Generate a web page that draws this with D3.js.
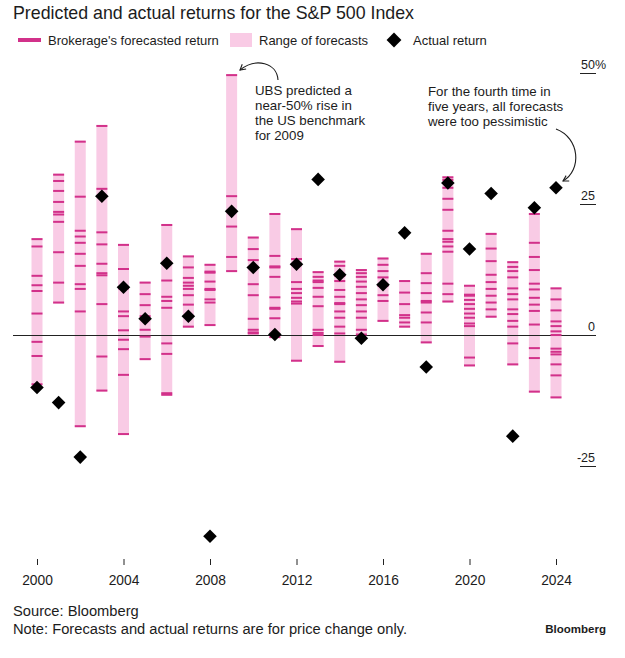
<!DOCTYPE html>
<html>
<head>
<meta charset="utf-8">
<script src="https://cdn.jsdelivr.net/npm/d3@7"></script>
<style>
  html, body { margin: 0; padding: 0; background: #fff; }
  svg { display: block; font-family: "Liberation Sans", Arial, sans-serif; }
</style>
</head>
<body>
<svg id="chart" width="625" height="658"></svg>
<script>
// ---------------- DATA ----------------
const years = [2000, 2001, 2002, 2003, 2004, 2005, 2006, 2007, 2008, 2009, 2010, 2011, 2012,
               2013, 2014, 2015, 2016, 2017, 2018, 2019, 2020, 2021, 2022, 2023, 2024];

const actualReturns = [-10.1, -13.0, -23.4, 26.4, 9.0, 3.0, 13.6, 3.5, -38.5, 23.5, 12.8, 0.0, 13.4,
                       29.6, 11.4, -0.7, 9.5, 19.4, -6.2, 28.9, 16.3, 26.9, -19.4, 24.2, 28.0];

const forecasts = [
  [18.2, 16.8, 11.2, 9.4, 8.3, 4.0, -1.4, -4.1, -9.5],                          // 2000
  [30.5, 29.3, 27.4, 25.3, 23.4, 22.9, 21.5, 15.7, 9.9, 6.1],                    // 2001
  [36.8, 26.3, 19.8, 18.7, 17.5, 15.4, 13.1, 9.6, 8.7, 4.4, -17.5],              // 2002
  [39.8, 27.8, 19.5, 17.2, 13.5, 11.7, 11.3, 5.8, -4.2, -10.7],                  // 2003
  [17.1, 12.5, 8.8, 4.4, 3.5, 0.8, -1.0, -2.8, -7.7, -19.0],                     // 2004
  [9.9, 7.7, 5.6, 3.5, 0.9, -0.4, -4.7],                                         // 2005
  [20.9, 10.3, 7.2, 6.4, 5.1, -1.7, -3.7, -11.2, -11.5],                         // 2006
  [14.9, 12.8, 10.8, 9.9, 9.3, 8.7, 7.5, 5.7, 1.5],                              // 2007
  [13.3, 12.0, 11.8, 10.1, 8.7, 8.5, 6.7, 6.1, 1.8],                             // 2008
  [49.5, 26.4, 20.6, 14.8, 12.1],                                                // 2009
  [18.5, 16.3, 14.2, 9.6, 7.5, 3.0, 0.9, 0.4, 0.2],                              // 2010
  [23.0, 15.0, 13.0, 12.8, 11.0, 7.1, 5.1, 4.9, 3.1, -0.5],                      // 2011
  [20.1, 14.4, 13.3, 10.0, 8.7, 7.9, 7.0, 6.3, 5.9, -5.0],                       // 2012
  [11.9, 11.0, 10.3, 10.0, 8.9, 7.2, 5.4, 0.9, 0.3, -0.1, -2.2],                 // 2013
  [13.9, 13.1, 11.2, 10.2, 8.5, 7.2, 6.0, 5.8, 4.4, 3.2, 1.5, 0.2, -5.2],        // 2014
  [12.3, 11.7, 11.0, 10.1, 9.1, 7.9, 6.7, 5.6, 4.4, 3.2, 0.9, 0.0],              // 2015
  [14.5, 13.3, 12.1, 10.9, 9.3, 7.5, 6.4, 2.6],                                  // 2016
  [10.2, 8.0, 5.8, 3.7, 3.2, 2.3, 1.5],                                          // 2017
  [15.4, 11.7, 9.8, 7.9, 6.4, 6.1, 4.2, 2.3, -1.5],                              // 2018
  [30.0, 29.5, 28.0, 25.9, 23.8, 19.8, 18.2, 17.7, 16.8, 15.8, 9.7, 7.7, 6.3],   // 2019
  [9.3, 7.6, 7.4, 6.6, 5.8, 4.9, 4.0, 3.2, 2.1, 1.6, -4.4, -5.9],                // 2020
  [19.2, 16.4, 14.0, 11.4, 10.0, 8.7, 7.4, 6.1, 4.8, 3.4],                       // 2021
  [13.8, 12.9, 12.1, 10.9, 8.8, 7.7, 6.7, 4.8, 3.9, 2.6, 1.5, -1.7, -5.7],       // 2022
  [23.0, 17.5, 14.8, 12.3, 9.7, 8.6, 7.0, 5.7, 4.5, 1.9, -2.6, -4.5, -10.9],     // 2023
  [8.8, 6.7, 4.6, 2.5, 1.6, 0.6, -0.1, -2.7, -3.3, -3.8, -5.7, -7.8, -12.0]      // 2024
];

const xTickYears = [2000, 2004, 2008, 2012, 2016, 2020, 2024];
const yTickValues = [-25, 0, 25, 50];

const titleText = "Predicted and actual returns for the S&P 500 Index";
const legendLabels = ["Brokerage's forecasted return", "Range of forecasts", "Actual return"];
const annotationUBS = ["UBS predicted a", "near-50% rise in", "the US benchmark", "for 2009"];
const annotationRecent = ["For the fourth time in", "five years, all forecasts", "were too pessimistic"];
const sourceLines = ["Source: Bloomberg", "Note: Forecasts and actual returns are for price change only."];

// ---------------- STYLE ----------------
const C = {
  text: "#1c1c1c",
  range: "#f9cbe5",
  tick: "#d2318a",
  diamond: "#000",
  axis: "#222"
};

// ---------------- DRAW ----------------
const svg = d3.select("#chart");

const x = d3.scaleLinear().domain([2000, 2024]).range([37, 556]);
const y = d3.scaleLinear().domain([-25, 50]).range([465.5, 72.5]);

const barW = 11;

// Title
svg.append("text")
  .attr("x", 13).attr("y", 19)
  .attr("font-size", 17.8).attr("fill", C.text)
  .text(titleText);

// Legend
const lg = svg.append("g");
lg.append("line").attr("x1", 18).attr("x2", 41).attr("y1", 40).attr("y2", 40)
  .attr("stroke", C.tick).attr("stroke-width", 4);
lg.append("text").attr("x", 48).attr("y", 44.5).attr("font-size", 13).attr("fill", C.text).text(legendLabels[0]);
lg.append("rect").attr("x", 230).attr("y", 33).attr("width", 22).attr("height", 14).attr("fill", C.range);
lg.append("text").attr("x", 259).attr("y", 44.5).attr("font-size", 13).attr("fill", C.text).text(legendLabels[1]);
lg.append("path").attr("transform", "translate(394,40) rotate(45)")
  .attr("d", d3.symbol().type(d3.symbolSquare).size(110)()).attr("fill", C.diamond);
lg.append("text").attr("x", 413).attr("y", 44.5).attr("font-size", 13).attr("fill", C.text).text(legendLabels[2]);

// Range bars
const rows = years.map((yr, i) => ({
  year: yr,
  actual: actualReturns[i],
  f: forecasts[i],
  lo: d3.min(forecasts[i]),
  hi: d3.max(forecasts[i])
}));

svg.append("g").selectAll("rect").data(rows).join("rect")
  .attr("x", d => x(d.year) - barW / 2)
  .attr("width", barW)
  .attr("y", d => y(d.hi) - 1)
  .attr("height", d => y(d.lo) - y(d.hi) + 2)
  .attr("fill", C.range);

// Y axis: zero line and short stubs with labels
const yAxis = svg.append("g");
yTickValues.forEach(v => {
  const yy = Math.round(y(v)) + 0.5;
  yAxis.append("line")
    .attr("x1", v === 0 ? 13 : 580).attr("x2", 596)
    .attr("y1", yy).attr("y2", yy)
    .attr("stroke", C.axis).attr("stroke-width", 1);
  yAxis.append("text")
    .attr("x", 595).attr("y", yy - 5)
    .attr("text-anchor", "end")
    .attr("font-size", 12.5).attr("fill", C.text)
    .text(d3.format("d")(v).replace("−", "-"));
  if (v === d3.max(yTickValues)) {
    yAxis.append("text")
      .attr("x", 595).attr("y", yy - 5)
      .attr("font-size", 12.5).attr("fill", C.text)
      .text("%");
  }
});

// Forecast ticks
const tickG = svg.append("g");
rows.forEach(d => {
  tickG.selectAll(null).data(d.f).join("rect")
    .attr("x", x(d.year) - barW / 2)
    .attr("width", barW)
    .attr("y", v => y(v) - 1)
    .attr("height", 2)
    .attr("fill", C.tick);
});

// Actual return diamonds
svg.append("g").selectAll("path").data(rows).join("path")
  .attr("transform", d => `translate(${x(d.year)},${y(d.actual)}) rotate(45)`)
  .attr("d", d3.symbol().type(d3.symbolSquare).size(92)())
  .attr("fill", C.diamond);

// X axis
const xAxis = d3.axisBottom(x)
  .tickValues(xTickYears)
  .tickFormat(d3.format("d"))
  .tickSizeInner(6).tickSizeOuter(0).tickPadding(10);
const xg = svg.append("g").attr("transform", "translate(0,559)").call(xAxis);
xg.select(".domain").remove();
xg.selectAll(".tick line").attr("stroke", C.axis);
xg.selectAll(".tick text").attr("font-size", 13.8).attr("fill", C.text)
  .attr("font-family", "'Liberation Sans', Arial, sans-serif");

// Annotations
const defs = svg.append("defs");
defs.append("marker").attr("id", "arrow")
  .attr("viewBox", "0 0 10 10").attr("refX", 8).attr("refY", 5)
  .attr("markerWidth", 7).attr("markerHeight", 7).attr("orient", "auto")
  .append("path").attr("d", "M1,1 L8,5 L1,9").attr("fill", "none")
  .attr("stroke", C.text).attr("stroke-width", 1.4);

const ann1 = svg.append("text").attr("font-size", 13.3).attr("fill", C.text);
annotationUBS.forEach((t, i) => {
  ann1.append("tspan").attr("x", 255).attr("y", 95 + i * 15).text(t);
});
svg.append("path")
  .attr("d", "M278,80 C277,63 256,57 240,70")
  .attr("fill", "none").attr("stroke", C.text).attr("stroke-width", 1.1)
  .attr("marker-end", "url(#arrow)");

const ann2 = svg.append("text").attr("font-size", 13.3).attr("fill", C.text);
annotationRecent.forEach((t, i) => {
  ann2.append("tspan").attr("x", 428).attr("y", 96 + i * 15).text(t);
});
svg.append("path")
  .attr("d", "M556,129 C580,138 582,170 563,181")
  .attr("fill", "none").attr("stroke", C.text).attr("stroke-width", 1.1)
  .attr("marker-end", "url(#arrow)");

// Footer
sourceLines.forEach((t, i) => {
  svg.append("text").attr("x", 13).attr("y", 616 + i * 18)
    .attr("font-size", 14.7).attr("fill", C.text).text(t);
});
svg.append("text").attr("x", 606).attr("y", 633)
  .attr("text-anchor", "end").attr("font-size", 11.5).attr("font-weight", "bold")
  .attr("fill", C.text).text("Bloomberg");
</script>
</body>
</html>
